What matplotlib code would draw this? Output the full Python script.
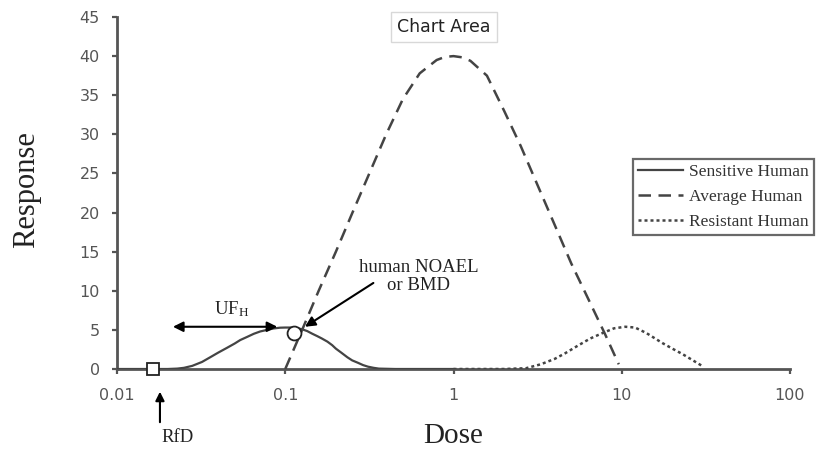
import matplotlib
matplotlib.use("Agg")
import matplotlib.pyplot as plt
from matplotlib.ticker import FixedLocator, FixedFormatter, NullLocator

# ---- data ----
sens_dose = [0.01, 0.02, 0.0228, 0.025, 0.028, 0.032, 0.0358, 0.04, 0.045, 0.05, 0.054,
             0.06, 0.065, 0.071, 0.078, 0.085, 0.093, 0.1, 0.11, 0.118, 0.125, 0.135,
             0.145, 0.155, 0.165, 0.178, 0.19, 0.2, 0.215, 0.234, 0.25, 0.27, 0.29,
             0.31, 0.335, 0.36, 0.45, 1.0]
sens_resp = [0, 0, 0.05, 0.15, 0.4, 0.9, 1.5, 2.1, 2.7, 3.25, 3.7,
             4.15, 4.5, 4.8, 5.0, 5.18, 5.28, 5.3, 5.3, 5.2, 5.1, 4.85,
             4.5, 4.2, 3.9, 3.5, 3.05, 2.6, 2.1, 1.5, 1.1, 0.8, 0.5,
             0.3, 0.15, 0.05, 0, 0]

avg_dose = [0.1, 0.126, 0.158, 0.2, 0.251, 0.316, 0.398, 0.5, 0.63, 0.794, 0.89, 1.0,
            1.12, 1.26, 1.58, 2.0, 2.51, 3.16, 3.98, 5.01, 6.31, 7.94, 9.6]
avg_resp = [0, 5, 10, 15, 20, 25, 30, 34.5, 37.8, 39.5, 39.9, 40,
            39.85, 39.4, 37.5, 33, 28.5, 23.5, 18.5, 13.5, 9, 4.5, 0.6]

res_dose = [1.0, 2.0, 2.7, 3.3, 4.0, 4.6, 5.5, 6.5, 7.7, 9.0, 10.5, 12.0,
            14.0, 17.5, 20.0, 23.0, 26.5, 30.0]
res_resp = [0, 0, 0.1, 0.6, 1.3, 2.0, 3.0, 3.9, 4.6, 5.2, 5.4, 5.3,
            4.6, 3.3, 2.6, 1.9, 1.1, 0.4]

series_labels = ["Sensitive Human", "Average Human", "Resistant Human"]

x_ticks = [0.01, 0.1, 1, 10, 100]
x_ticklabels = ["0.01", "0.1", "1", "10", "100"]
y_ticks = [0, 5, 10, 15, 20, 25, 30, 35, 40, 45]

rfd_point = (0.0164, 0.0)
noael_point = (0.112, 4.6)
uf_left, uf_right, uf_level = 0.0215, 0.0897, 5.4
# ---------------------------------------

plt.rcParams['mathtext.default'] = 'regular'
W, H = 831, 450
fig = plt.figure(figsize=(W / 100, H / 100), dpi=100)
ax = fig.add_axes([117 / W, (H - 369) / H, (790 - 117) / W, (369 - 17) / H])

curve_col = '#444444'
ax.plot(sens_dose, sens_resp, color=curve_col, lw=1.6, ls='-', label=series_labels[0], zorder=3)
ax.plot(avg_dose, avg_resp, color=curve_col, lw=1.8, ls=(0, (5, 3)), label=series_labels[1], zorder=3)
ax.plot(res_dose, res_resp, color=curve_col, lw=1.8, ls=(0, (1.2, 1.2)), label=series_labels[2], zorder=3)

ax.plot([rfd_point[0]], [rfd_point[1]], marker='s', ms=8.5, mfc='white', mec='#222222', mew=1.3,
        ls='none', zorder=5, clip_on=False)
ax.plot([noael_point[0]], [noael_point[1]], marker='o', ms=10, mfc='white', mec='#222222', mew=1.3,
        ls='none', zorder=5)

ax.set_xscale('log')
ax.set_xlim(0.01, 100)
ax.set_ylim(0, 45)
ax.xaxis.set_major_locator(FixedLocator(x_ticks))
ax.xaxis.set_major_formatter(FixedFormatter(x_ticklabels))
ax.xaxis.set_minor_locator(NullLocator())
ax.set_yticks(y_ticks)

spine_col = '#555555'
for s in ['top', 'right']:
    ax.spines[s].set_visible(False)
for s in ['left', 'bottom']:
    ax.spines[s].set_color(spine_col)
    ax.spines[s].set_linewidth(2.0)
ax.tick_params(axis='both', colors=spine_col, labelcolor='#555555', labelsize=11.5,
               length=3.5, width=1.6)
ax.tick_params(axis='y', pad=9)
ax.tick_params(axis='x', pad=10)

serif = 'Liberation Serif'
fig.text(27 / W, 1 - 190 / H, 'Response', rotation=90, ha='center', va='center',
         fontsize=22, family=serif, color='#222222')
fig.text(453 / W, 1 - 443 / H, 'Dose', ha='center', va='baseline',
         fontsize=21, family=serif, color='#222222')

# annotations
ax.annotate('', xy=(uf_left, uf_level), xytext=(uf_right, uf_level),
            arrowprops=dict(arrowstyle='<|-|>', color='black', lw=1.5, mutation_scale=15,
                            shrinkA=0, shrinkB=0))
ax.text(0.0483, 7.7, 'UF$_{H}$', ha='center', va='center', fontsize=13.5, family=serif,
        color='#222222')

ax.annotate('', xy=(0.131, 5.4), xytext=(0.334, 11.0),
            arrowprops=dict(arrowstyle='-|>', color='black', lw=1.5, mutation_scale=15,
                            shrinkA=0, shrinkB=0))
ax.text(0.62, 11.8, 'human NOAEL\nor BMD', ha='center', va='center', fontsize=13.5,
        family=serif, color='#222222', linespacing=1.05)

ax.annotate('', xy=(0.018, -2.9), xytext=(0.018, -6.8),
            arrowprops=dict(arrowstyle='-|>', color='black', lw=1.5, mutation_scale=13,
                            shrinkA=0, shrinkB=0), annotation_clip=False)
ax.text(0.0228, -8.7, 'RfD', ha='center', va='center', fontsize=13.5, family=serif,
        color='#222222', clip_on=False)

fig.text(444 / W, 1 - 27 / H, 'Chart Area', ha='center', va='center', fontsize=12.5,
         family='DejaVu Sans', color='#222222',
         bbox=dict(boxstyle='square,pad=0.35', fc='white', ec='#d8d8d8', lw=1.0))

leg = ax.legend(loc='upper left', bbox_to_anchor=(633 / W, 1 - 159 / H),
                bbox_transform=fig.transFigure, borderaxespad=0, frameon=True,
                fancybox=False, prop={'family': serif, 'size': 12.5},
                handlelength=2.6, handletextpad=0.35, labelspacing=0.5,
                borderpad=0.3, labelcolor='#333333')
leg.get_frame().set_edgecolor('#444444')
leg.get_frame().set_linewidth(1.6)

fig.savefig('out.png', dpi=100)
